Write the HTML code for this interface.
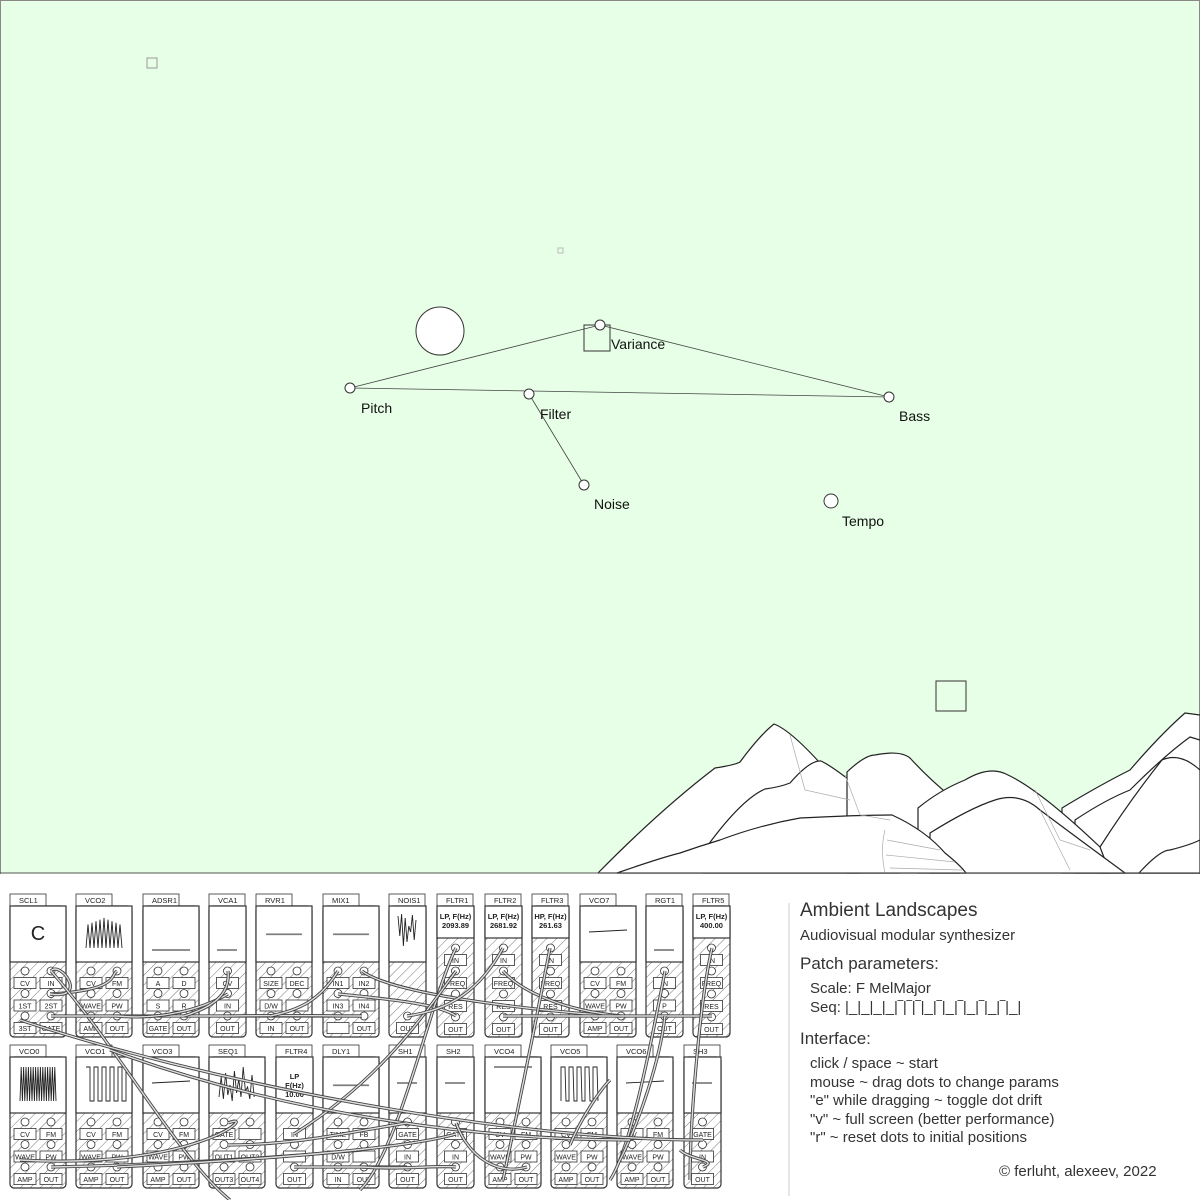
<!DOCTYPE html>
<html><head><meta charset="utf-8">
<style>
html,body{margin:0;padding:0;background:#fff}
#wrap{position:relative;width:1200px;height:1200px;overflow:hidden;font-family:"Liberation Sans",sans-serif}
svg text{font-family:"Liberation Sans",sans-serif}
.panel{position:absolute;left:800px;color:#333;white-space:nowrap}
</style></head>
<body><div id="wrap">
<svg id="s" width="1200" height="1200" viewBox="0 0 1200 1200" xmlns="http://www.w3.org/2000/svg">
<defs>
<pattern id="h" width="7" height="7" patternUnits="userSpaceOnUse" patternTransform="rotate(45)">
<rect width="7" height="7" fill="#fff"/><line x1="0" y1="0" x2="0" y2="7" stroke="#555" stroke-width="0.8"/>
</pattern>
</defs>
<rect x="0" y="0" width="1200" height="873" fill="#e6ffe6"/>
<rect x="0.5" y="0.5" width="1199" height="1199" fill="none" stroke="#888"/>
<rect x="147" y="58" width="10" height="10" fill="none" stroke="#999"/>
<rect x="558" y="248" width="5" height="5" fill="none" stroke="#bbb"/>
<circle cx="440" cy="331" r="24" fill="#fff" stroke="#333"/>
<rect x="584" y="325" width="26" height="26" fill="none" stroke="#333"/>
<rect x="936" y="681" width="30" height="30" fill="none" stroke="#333"/>
<g stroke="#444" stroke-width="0.8">
<line x1="350" y1="388" x2="600" y2="325"/><line x1="600" y1="325" x2="889" y2="397"/>
<line x1="350" y1="388" x2="889" y2="397"/><line x1="529" y1="394" x2="584" y2="485"/>
</g>
<g fill="#fff" stroke="#333">
<circle cx="600" cy="325" r="5"/><circle cx="350" cy="388" r="5"/><circle cx="529" cy="394" r="5"/>
<circle cx="889" cy="397" r="5"/><circle cx="584" cy="485" r="5"/><circle cx="831" cy="501" r="7"/>
</g>
<g font-size="14" fill="#111">
<text x="611" y="349">Variance</text><text x="361" y="413">Pitch</text><text x="540" y="419">Filter</text>
<text x="899" y="421">Bass</text><text x="594" y="509">Noise</text><text x="842" y="526">Tempo</text>
</g>
<g fill="#fff" stroke="#222" stroke-width="1.2" stroke-linejoin="round">
<path d="M1062,873 L1062,808 Q1100,785 1130,770 Q1160,735 1185,713 L1200,715 L1200,873Z"/>
<path d="M1075,873 L1075,820 Q1105,800 1130,790 Q1165,755 1190,737 L1200,740 L1200,873Z"/>
<path d="M1100,873 L1100,847 Q1130,800 1162,760 Q1180,752 1200,770 L1200,873Z"/>
<path d="M598,873 Q660,810 715,768 Q735,765 740,762 Q760,735 774,724 Q790,730 820,763 L860,873Z"/>
<path d="M703,873 L703,852 Q740,800 765,789 Q780,787 790,783 Q810,760 821,761 Q840,770 892,816 L900,873Z"/>
<path d="M847,873 L847,772 Q865,755 875,755 Q900,750 910,758 Q930,780 955,800 L960,873Z"/>
<path d="M918,873 L918,808 Q940,790 965,780 Q990,765 1008,775 Q1040,790 1100,847 L1110,873Z"/>
<path d="M930,873 L930,833 Q970,808 995,800 Q1020,792 1040,810 Q1080,840 1125,873Z"/>
<path d="M617,873 Q660,858 680,853 Q700,846 720,840 Q760,825 800,818 Q860,815 892,815 Q925,830 945,853 Q960,865 966,873Z"/>
<path d="M1139,873 Q1160,850 1170,850 Q1190,845 1200,840 L1200,873Z"/>
</g>
<g stroke="#aaa" stroke-width="0.7" fill="none">
<path d="M790,735 L805,790 L850,800"/><path d="M845,775 L860,815 L890,820"/>
<path d="M885,830 Q880,850 885,873"/><path d="M887,840 L940,850 M886,855 L955,862 M890,868 L962,870"/>
<path d="M1035,790 L1060,840 L1090,850"/><path d="M1040,810 L1070,870"/>
</g>
<rect x="0" y="874" width="1200" height="326" fill="#fff"/>
<line x1="0" y1="873" x2="1200" y2="873" stroke="#555" stroke-width="1"/>
<line x1="789" y1="903" x2="789" y2="1196" stroke="#ccc" stroke-width="1"/>
<g id="mods"></g>
<g id="cables" fill="none"></g>
</svg>
<div class="panel" style="top:900px;font-size:19px">Ambient Landscapes</div>
<div class="panel" style="top:927px;font-size:15px">Audiovisual modular synthesizer</div>
<div class="panel" style="top:954px;font-size:17px">Patch parameters:</div>
<div class="panel" style="top:980px;left:810px;font-size:15px">Scale: F MelMajor</div>
<div class="panel" style="top:999px;left:810px;font-size:15px">Seq: |_|_|_|_|‾|‾|‾|_|‾|_|‾|_|‾|_|‾|_|</div>
<div class="panel" style="top:1029px;font-size:17px">Interface:</div>
<div class="panel" style="top:1055px;left:810px;font-size:15px;line-height:18.5px">click / space ~ start<br>mouse ~ drag dots to change params<br>"e" while dragging ~ toggle dot drift<br>"v" ~ full screen (better performance)<br>"r" ~ reset dots to initial positions</div>
<div class="panel" style="top:1163px;left:999px;font-size:15px">© ferluht, alexeev, 2022</div>
</div>
<script>
var NS="http://www.w3.org/2000/svg",G=document.getElementById("mods");
function el(t,a,txt,p){var e=document.createElementNS(NS,t);for(var k in a)e.setAttribute(k,a[k]);if(txt!=null)e.textContent=txt;(p||G).appendChild(e);return e;}
var VCO=[["CV","FM"],["WAVE","PW"],["AMP","OUT"]];
var M=[
[10,894,56,"SCL1","C",[["CV","IN"],["1ST","2ST"],["3ST","GATE"]]],
[76,894,56,"VCO2","saw",VCO],
[143,894,56,"ADSR1","flat",[["A","D"],["S","R"],["GATE","OUT"]]],
[209,894,37,"VCA1","flatn",[["CV"],["IN"],["OUT"]]],
[256,894,56,"RVR1","wig",[["SIZE","DEC"],["D/W",""],["IN","OUT"]]],
[323,894,56,"MIX1","wig",[["IN1","IN2"],["IN3","IN4"],["","OUT"]]],
[389,894,37,"NOIS1","noise",[[null],[null],["OUT"]]],
[437,894,37,"FLTR1","F:LP, F(Hz):2093.89",[["IN"],["FREQ"],["RES"],["OUT"]]],
[485,894,37,"FLTR2","F:LP, F(Hz):2681.92",[["IN"],["FREQ"],["RES"],["OUT"]]],
[532,894,37,"FLTR3","F:HP, F(Hz):261.63",[["IN"],["FREQ"],["RES"],["OUT"]]],
[580,894,56,"VCO7","line",VCO],
[646,894,37,"RGT1","flatn",[["IN"],["P"],["OUT"]]],
[693,894,37,"FLTR5","F:LP, F(Hz):400.00",[["IN"],["FREQ"],["RES"],["OUT"]]],
[10,1045,56,"VCO0","dense",VCO],
[76,1045,56,"VCO1","sq",VCO],
[143,1045,56,"VCO3","line",VCO],
[209,1045,56,"SEQ1","seq",[["GATE",""],["OUT1","OUT2"],["OUT3","OUT4"]]],
[276,1045,37,"FLTR4","G",[["IN"],[""],["OUT"]]],
[323,1045,56,"DLY1","wig",[["TIME","FB"],["D/W",""],["IN","OUT"]]],
[389,1045,37,"SH1","flatt",[["GATE"],["IN"],["OUT"]]],
[437,1045,37,"SH2","flatt",[["GATE"],["IN"],["OUT"]]],
[485,1045,56,"VCO4","linet",VCO],
[551,1045,56,"VCO5","sq5",VCO],
[617,1045,56,"VCO6","line",VCO],
[684,1045,37,"SH3","flatt",[["GATE"],["IN"],["OUT"]]]
];
M.forEach(function(m){
 var x=m[0],y=m[1],w=m[2],b=y+12,filt=m[5].length==4;
 el("rect",{x:x,y:y,width:36,height:12,fill:"#fff",stroke:"#333","stroke-width":0.8});
 el("text",{x:x+9,y:y+9,"font-size":7.5,fill:"#222"},m[3]);
 var dh=filt?32:56;
 el("rect",{x:x,y:b,width:w,height:131,rx:4,fill:"url(#h)",stroke:"#333","stroke-width":1.2});
 el("rect",{x:x,y:b,width:w,height:dh,fill:"#fff",stroke:"#333","stroke-width":1.2});
 var d=m[4],cx=x+w/2;
 if(d=="C")el("text",{x:cx,y:b+34,"font-size":20,"text-anchor":"middle",fill:"#222"},"C");
 else if(d.indexOf("F:")==0){var p=d.slice(2).split(":");
  el("text",{x:cx,y:b+13,"font-size":7.5,"font-weight":"bold","text-anchor":"middle",fill:"#222"},p[0]);
  el("text",{x:cx,y:b+22,"font-size":7.5,"font-weight":"bold","text-anchor":"middle",fill:"#222"},p[1]);}
 else if(d=="G"){["LP","F(Hz)","10.00"].forEach(function(t,i){el("text",{x:cx,y:b+22+i*9,"font-size":7.5,"font-weight":"bold","text-anchor":"middle",fill:"#222"},t);});}
 else {var pts="",i;
  if(d=="flat")pts=(x+9)+","+(b+44)+" "+(x+47)+","+(b+44);
  if(d=="flatn")pts=(x+8)+","+(b+44)+" "+(x+28)+","+(b+44);
  if(d=="flatt")pts=(x+8)+","+(b+26)+" "+(x+28)+","+(b+26);
  if(d=="line")pts=(x+9)+","+(b+26)+" "+(x+47)+","+(b+24);
  if(d=="linet")pts=(x+9)+","+(b+10)+" "+(x+47)+","+(b+10);
  if(d=="wig"){for(i=0;i<=36;i++)pts+=(x+10+i)+","+(b+28+(i%2?1:-0.5))+" ";}
  if(d=="saw"){for(i=0;i<=18;i++)pts+=(x+10+i*2)+","+(b+(i%2?12+Math.abs(9-i)*0.8:42))+" ";}
  if(d=="dense"){for(i=0;i<=30;i++)pts+=(x+10+i*1.2)+","+(b+(i%2?10:44))+" ";}
  if(d=="noise"){[10,30,8,40,12,36,20,26,9,34,14].forEach(function(a,j){pts+=(x+9+j*1.8)+","+(b+a)+" ";});}
  if(d=="seq"){[40,20,42,16,38,28,44,14,36,22,40,10,34,30,42,18,40].forEach(function(a,j){pts+=(x+10+j*2.2)+","+(b+a)+" ";});}
  if(d=="sq"){pts=(x+10)+","+(b+10)+" ";for(i=0;i<5;i++){pts+=(x+14+i*8)+","+(b+10)+" "+(x+14+i*8)+","+(b+44)+" "+(x+18+i*8)+","+(b+44)+" "+(x+18+i*8)+","+(b+10)+" ";}}
  if(d=="sq5"){for(i=0;i<5;i++){pts+=(x+10+i*8)+","+(b+44)+" "+(x+10+i*8)+","+(b+10)+" "+(x+14+i*8)+","+(b+10)+" "+(x+15+i*8)+","+(b+44)+" ";}}
  if(pts)el("polyline",{points:pts,fill:"none",stroke:"#222","stroke-width":d=="wig"?0.6:0.9});
 }
 var rows=m[5],cy0=filt?b+42:b+65;
 rows.forEach(function(r,ri){
  var cy=cy0+ri*(filt?23:22.5),ly=cy+12;
  r.forEach(function(lab,ci){
   var jx=(r.length==1||w<40)?cx:(ci==0?x+15:x+41);
   if(lab===null)return;
   el("circle",{cx:jx,cy:cy,r:4,fill:"#fff",stroke:"#333","stroke-width":0.8});
   el("rect",{x:jx-11,y:ly-5.5,width:22,height:11,fill:"#fff",stroke:"#333","stroke-width":0.8});
   el("text",{x:jx,y:ly+3,"font-size":7,"text-anchor":"middle",fill:"#222"},lab);
  });
 });
});
var C=document.getElementById("cables");
var cab=[
"M50,994 C120,990 110,975 117,971","M50,994 C90,1000 60,960 51,971","M51,971 C120,1050 180,1160 230,1200",
"M51,1016 C100,1016 300,1016 362,1016","M117,1016 C160,1020 200,1010 228,994","M184,1016 C220,1005 230,990 228,971",
"M228,1016 C280,1015 330,1016 362,1016","M338,971 C320,1000 300,1010 270,1016","M362,971 C400,1000 600,1016 621,1016",
"M338,994 C400,1000 440,1005 456,1016","M456,948 C430,1000 400,1150 360,1190","M456,971 C420,1020 380,1080 294,1134",
"M503,948 C480,990 450,1010 407,1016","M503,971 C520,990 560,1010 621,1016","M550,948 C540,1000 520,1100 503,1180",
"M503,1016 C600,1016 650,1016 712,1016","M712,948 C700,1000 690,1120 690,1180","M665,971 C650,1050 630,1150 610,1180",
"M665,1016 C660,1060 640,1120 620,1160","M20,1020 C200,1080 500,1140 703,1140","M110,1050 C300,1120 500,1140 630,1140",
"M51,1167 C150,1165 250,1160 362,1150","M117,1167 C250,1160 400,1150 456,1134","M228,1123 C260,1110 200,1170 20,1160",
"M228,1145 C300,1145 360,1130 407,1123","M294,1167 C330,1167 380,1167 407,1167","M362,1167 C400,1170 440,1165 456,1167",
"M456,1123 C470,1160 500,1175 527,1167","M570,1145 C580,1120 600,1090 610,1080","M680,1150 C690,1160 720,1160 703,1167"
];
cab.forEach(function(d){el("path",{d:d,stroke:"#444","stroke-width":3.2},null,C);el("path",{d:d,stroke:"#ddd","stroke-width":1.4},null,C);});
</script>
</body></html>
